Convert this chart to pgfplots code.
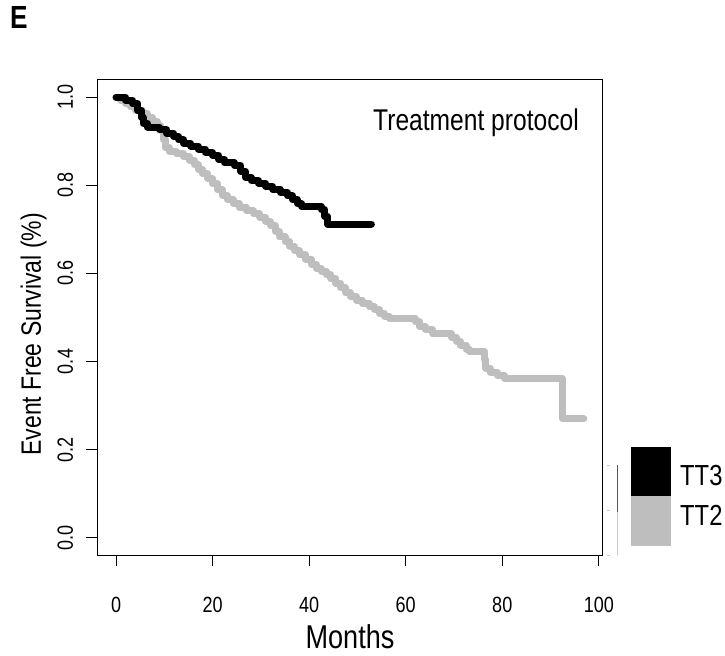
\documentclass[border=0pt]{standalone}
\usepackage{fontspec}
\setmainfont{Liberation Sans}[FakeStretch=0.82]
\usepackage{pgfplots}
\pgfplotsset{compat=1.18}
\definecolor{ttgray}{RGB}{190,190,190}
\begin{document}
\begin{tikzpicture}
\path[use as bounding box] (-97.3bp,-100bp) rectangle (627.7bp,555.3bp);
\begin{axis}[
  at={(0,0)}, anchor=south west,
  scale only axis, width=505.4bp, height=475.7bp,
  xmin=-3.88, xmax=100.8, ymin=-0.04, ymax=1.04,
  axis line style={line width=0.8bp},
  tick align=outside, major tick length=11bp,
  tick style={line width=0.8bp, black},
  xtick pos=lower, ytick pos=left,
  xtick={0,20,40,60,80,100},
  ytick={0,0.2,0.4,0.6,0.8,1},
  /pgf/number format/assume math mode=true,
  yticklabel={\pgfmathprintnumber[fixed,fixed zerofill,precision=1]{\tick}},
  ticklabel style={font=\fontsize{22bp}{24bp}\selectfont, inner sep=0pt},
  xticklabel style={anchor=north},
  yticklabel style={rotate=90, anchor=south},
  xticklabel shift=31bp,
  yticklabel shift=13bp,
  clip=false,
]
\addplot[const plot, color=ttgray, line width=7bp, line cap=round, line join=round] coordinates {
(0,1.0) (1,0.993) (2,0.986) (3,0.978) (4,0.97) (5.5,0.962) (6.5,0.955) (7.5,0.945)
(8.5,0.935) (9.3,0.925) (9.8,0.905) (10.2,0.885) (11,0.877) (12.5,0.872) (14,0.865)
(15.2,0.857) (16.2,0.847) (17,0.836) (18,0.826) (19,0.815) (20,0.803) (21,0.79)
(22,0.777) (23,0.768) (24.3,0.758) (25.5,0.75) (27,0.742) (28.5,0.735) (29.8,0.728)
(31,0.718) (32,0.708) (33,0.695) (33.8,0.683) (35,0.672) (36,0.662) (37,0.652)
(38,0.642) (39.2,0.632) (40.5,0.62) (41.5,0.611) (42.5,0.605) (43.5,0.597)
(44.5,0.588) (45.5,0.578) (46.5,0.568) (47.5,0.556) (48.5,0.547) (49.8,0.539)
(51,0.532) (52.5,0.524) (53.5,0.517) (54.6,0.509) (55.6,0.502) (56.7,0.497)
(62,0.49) (62.8,0.48) (64,0.472) (65.6,0.463) (69.5,0.455) (70.5,0.446)
(71.3,0.437) (72.5,0.428) (73.2,0.422) (76.3,0.405) (76.6,0.385) (77.5,0.375)
(79,0.368) (80.5,0.361) (92.4,0.27) (96.9,0.27)
};
\addplot[const plot, color=black, line width=7bp, line cap=round, line join=round] coordinates {
(0,1.0) (2,0.993) (3.5,0.985) (4.5,0.97) (5.2,0.955) (5.6,0.94) (6.5,0.932)
(9,0.926) (10.5,0.918) (12,0.911) (13,0.903) (14,0.895) (15.5,0.889) (17,0.882)
(18.5,0.875) (20,0.868) (21.3,0.858) (22.5,0.851) (24.5,0.845) (25.8,0.832)
(26.8,0.818) (28,0.811) (29.5,0.805) (31,0.798) (32.5,0.791) (34,0.784)
(35.5,0.776) (36.5,0.768) (37.5,0.758) (38.5,0.752) (42.5,0.745) (43.2,0.73)
(43.8,0.712) (52.9,0.712)
};
\end{axis}
% labels
\node[anchor=base, font=\fontsize{33bp}{35bp}\selectfont] at (252.7bp,-93bp) {Months};
\node[anchor=base, rotate=90, font=\fontsize{28bp}{30bp}\selectfont] at (-56.3bp,221bp) {Event Free Survival (\%)};
\node[anchor=base west, inner sep=0pt, font=\fontsize{30bp}{32bp}\selectfont] at (275.7bp,425bp) {Treatment protocol};
\node[anchor=base west, inner sep=0pt, font=\bfseries\fontsize{32bp}{34bp}\selectfont] at (-87.3bp,527bp) {E};
% legend key
\fill[black] (533.7bp,59bp) rectangle (573.4bp,108.3bp);
\fill[ttgray] (533.7bp,9bp) rectangle (573.4bp,59bp);
\node[anchor=base west, inner sep=0pt, font=\fontsize{29bp}{31bp}\selectfont] at (582.7bp,70bp) {TT3};
\node[anchor=base west, inner sep=0pt, font=\fontsize{29bp}{31bp}\selectfont] at (582.7bp,30bp) {TT2};
\draw[line width=0.8bp, gray!70!black] (520.4bp,90bp) -- (520.4bp,43bp);
\draw[line width=0.6bp, gray!40] (520.4bp,43bp) -- (520.4bp,0bp);
\foreach \yy in {0,45,90} \draw[line width=0.6bp, gray!40] (510bp,\yy bp) -- (513bp,\yy bp);
\end{tikzpicture}
\end{document}
